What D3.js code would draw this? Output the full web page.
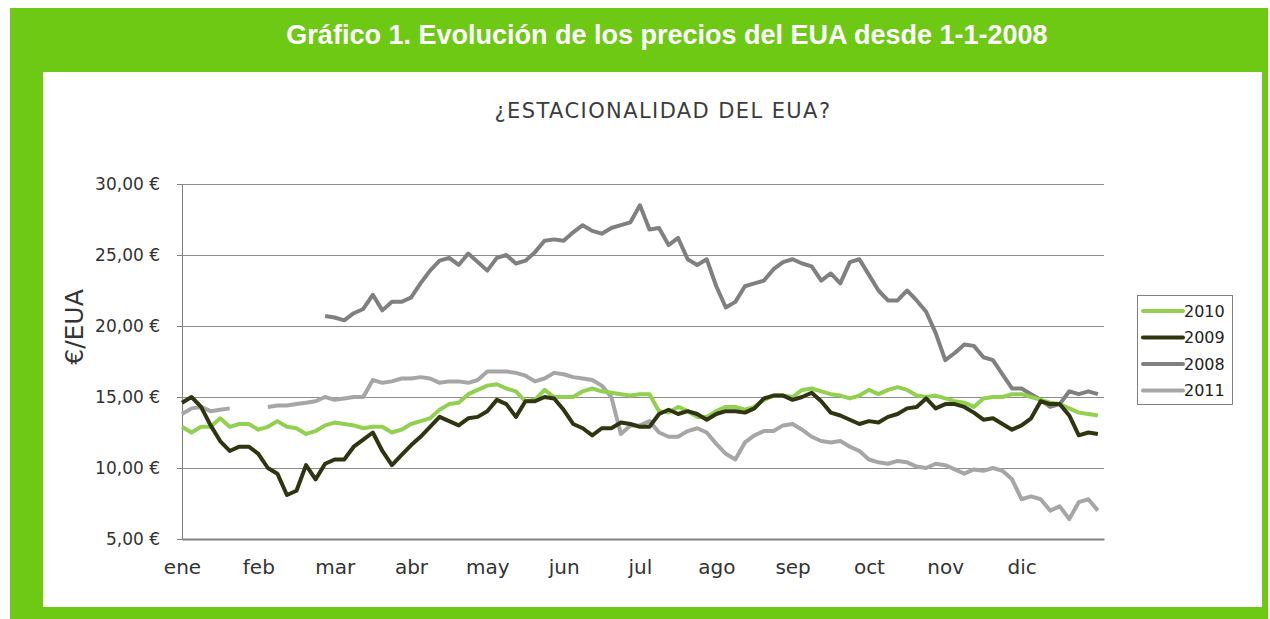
<!DOCTYPE html>
<html>
<head>
<meta charset="utf-8">
<script src="https://cdn.jsdelivr.net/npm/d3@7"></script>
<style>
  body { margin: 0; background: #fff; }
  #chart { width: 1270px; height: 619px; }
</style>
</head>
<body>
<div id="chart"></div>
<script>
var mainTitle = 'Gráfico 1. Evolución de los precios del EUA desde 1-1-2008';
var chartTitle = '¿ESTACIONALIDAD DEL EUA?';
var yLabel = '€/EUA';
var months = ['ene', 'feb', 'mar', 'abr', 'may', 'jun', 'jul', 'ago', 'sep', 'oct', 'nov', 'dic'];
var yTicks = [5, 10, 15, 20, 25, 30];
var step = 1 / 8; // one reading every eighth of a month

var s2010 = [12.9, 12.5, 12.9, 12.9, 13.5, 12.9, 13.1, 13.1, 12.7, 12.9, 13.3, 12.9, 12.8, 12.4, 12.6, 13.0, 13.2,
             13.1, 13.0, 12.8, 12.9, 12.9, 12.5, 12.7, 13.1, 13.3, 13.5, 14.1, 14.5, 14.6, 15.2, 15.5, 15.8,
             15.9, 15.6, 15.4, 14.7, 14.8, 15.5, 15.0, 15.0, 15.0, 15.4, 15.6, 15.4, 15.3, 15.2, 15.1, 15.2, 15.2,
             14.0, 13.9, 14.3, 14.0, 13.6, 13.6, 14.0, 14.3, 14.3, 14.1, 14.3, 14.8, 15.1, 15.1, 15.0, 15.5,
             15.6, 15.4, 15.2, 15.1, 14.9, 15.1, 15.5, 15.2, 15.5, 15.7, 15.5, 15.1, 15.0, 15.1, 14.9, 14.7,
             14.6, 14.3, 14.9, 15.0, 15.0, 15.2, 15.2, 15.0, 14.8, 14.6, 14.5, 14.2, 13.9, 13.8, 13.7];

var s2009 = [14.6, 15.0, 14.3, 13.0, 11.9, 11.2, 11.5, 11.5, 11.0, 10.0, 9.6, 8.1, 8.4, 10.2, 9.2, 10.3, 10.6,
             10.6, 11.5, 12.0, 12.5, 11.2, 10.2, 10.9, 11.6, 12.2, 12.9, 13.6, 13.3, 13.0, 13.5, 13.6, 14.0,
             14.8, 14.5, 13.6, 14.7, 14.7, 15.0, 14.9, 14.1, 13.1, 12.8, 12.3, 12.8, 12.8, 13.2, 13.1, 12.9, 12.9,
             13.8, 14.1, 13.8, 14.0, 13.8, 13.4, 13.8, 14.0, 14.0, 13.9, 14.2, 14.9, 15.1, 15.1, 14.8, 15.0,
             15.3, 14.7, 13.9, 13.7, 13.4, 13.1, 13.3, 13.2, 13.6, 13.8, 14.2, 14.3, 14.9, 14.2, 14.5, 14.5,
             14.3, 13.9, 13.4, 13.5, 13.1, 12.7, 13.0, 13.5, 14.7, 14.5, 14.5, 13.7, 12.3, 12.5, 12.4];

var s2008 = [null, null, null, null, null, null, null, null, null, null, null, null, null, null, null, 20.7, 20.6,
             20.4, 20.9, 21.2, 22.2, 21.1, 21.7, 21.7, 22.0, 23.0, 23.9, 24.6, 24.8, 24.3, 25.1, 24.5, 23.9,
             24.8, 25.0, 24.4, 24.6, 25.2, 26.0, 26.1, 26.0, 26.6, 27.1, 26.7, 26.5, 26.9, 27.1, 27.3, 28.5, 26.8,
             26.9, 25.7, 26.2, 24.7, 24.3, 24.7, 22.8, 21.3, 21.7, 22.8, 23.0, 23.2, 24.0, 24.5, 24.7, 24.4,
             24.2, 23.2, 23.7, 23.0, 24.5, 24.7, 23.6, 22.5, 21.8, 21.8, 22.5, 21.8, 21.0, 19.5, 17.6, 18.1,
             18.7, 18.6, 17.8, 17.6, 16.6, 15.6, 15.6, 15.2, 14.8, 14.3, 14.5, 15.4, 15.2, 15.4, 15.2];

var s2011 = [13.8, 14.2, 14.3, 14.0, 14.1, 14.2, null, null, null, 14.3, 14.4, 14.4, 14.5, 14.6, 14.7, 15.0, 14.8,
             14.9, 15.0, 15.0, 16.2, 16.0, 16.1, 16.3, 16.3, 16.4, 16.3, 16.0, 16.1, 16.1, 16.0, 16.2, 16.8,
             16.8, 16.8, 16.7, 16.5, 16.1, 16.3, 16.7, 16.6, 16.4, 16.3, 16.2, 15.8, 15.0, 12.4, 13.0, 13.0, 13.3,
             12.5, 12.2, 12.2, 12.6, 12.8, 12.5, 11.7, 11.0, 10.6, 11.8, 12.3, 12.6, 12.6, 13.0, 13.1, 12.7,
             12.2, 11.9, 11.8, 11.9, 11.5, 11.2, 10.6, 10.4, 10.3, 10.5, 10.4, 10.1, 10.0, 10.3, 10.2, 9.9,
             9.6, 9.9, 9.8, 10.0, 9.8, 9.2, 7.8, 8.0, 7.8, 7.0, 7.3, 6.4, 7.6, 7.8, 7.0];

var legendNames = ['2010', '2009', '2008', '2011'];
var legendValues = [s2010, s2009, s2008, s2011];
var legendColors = ['#92d050', '#2e3510', '#808080', '#a6a6a6'];
var drawOrder = [3, 2, 0, 1];

function drawChart() {
  var W = 1270, H = 619;
  var svg = d3.select('#chart').append('svg')
      .attr('width', W)
      .attr('height', H)
      .style('font-family', '"DejaVu Sans", sans-serif');

  // green frame + white panel
  svg.append('rect').attr('x', 10).attr('y', 8).attr('width', 1258).attr('height', 611).attr('fill', '#6dc914');
  svg.append('rect').attr('x', 43).attr('y', 72).attr('width', 1219).attr('height', 535).attr('fill', '#fff');

  svg.append('text')
      .attr('x', 667).attr('y', 44)
      .attr('text-anchor', 'middle')
      .attr('fill', '#fff')
      .style('font-family', '"Liberation Sans", Arial, sans-serif')
      .style('font-weight', 'bold')
      .style('font-size', '27px')
      .text(mainTitle);

  svg.append('text')
      .attr('x', 663).attr('y', 118)
      .attr('text-anchor', 'middle')
      .attr('fill', '#3c3c3c')
      .style('font-size', '21px')
      .style('letter-spacing', '1.4px')
      .text(chartTitle);

  var margin = {left: 182, top: 184, right: 1104, bottom: 539};
  var x = d3.scaleLinear().domain([0, 12.08]).range([margin.left, margin.right]);
  var y = d3.scaleLinear().domain([5, 30]).range([margin.bottom, margin.top]);

  // gridlines
  var grid = svg.append('g')
      .attr('transform', 'translate(' + margin.left + ',0)')
      .call(d3.axisLeft(y).tickValues(yTicks).tickSize(-(margin.right - margin.left)).tickFormat(''));
  grid.select('.domain').remove();
  grid.selectAll('line').attr('stroke', '#8c8c8c').attr('shape-rendering', 'crispEdges');

  var locale = d3.formatLocale({decimal: ',', thousands: '.', grouping: [3], currency: ['', ' €']});
  var fmt = locale.format('$,.2f');

  var yAxis = svg.append('g')
      .attr('transform', 'translate(' + margin.left + ',0)')
      .call(d3.axisLeft(y).tickValues(yTicks).tickSize(5).tickPadding(17).tickFormat(fmt));
  yAxis.select('.domain').attr('stroke', '#808080').attr('shape-rendering', 'crispEdges');
  yAxis.selectAll('line').attr('stroke', '#808080').attr('shape-rendering', 'crispEdges');
  yAxis.selectAll('text').attr('fill', '#333').style('font-size', '17px').style('font-family', '"DejaVu Sans", sans-serif');

  var xAxis = svg.append('g')
      .attr('transform', 'translate(0,' + margin.bottom + ')')
      .call(d3.axisBottom(x).tickValues(d3.range(months.length)).tickSize(0).tickPadding(21)
        .tickFormat(function(d) { return months[d]; }));
  xAxis.select('.domain').attr('stroke', '#808080').attr('stroke-width', 2);
  xAxis.selectAll('text').attr('fill', '#333').style('font-size', '20px').style('font-family', '"DejaVu Sans", sans-serif');

  svg.append('text')
      .attr('transform', 'translate(83,327) rotate(-90)')
      .attr('text-anchor', 'middle')
      .attr('fill', '#333')
      .style('font-size', '25px')
      .text(yLabel);

  var line = d3.line()
      .defined(function(d) { return d != null; })
      .x(function(d, i) { return x(i * step); })
      .y(function(d) { return y(d); });

  drawOrder.forEach(function(s) {
    svg.append('path')
        .datum(legendValues[s])
        .attr('d', line)
        .attr('fill', 'none')
        .attr('stroke', legendColors[s])
        .attr('stroke-width', 4)
        .attr('stroke-linejoin', 'round');
  });

  // legend
  var lg = svg.append('g');
  lg.append('rect').attr('x', 1137.5).attr('y', 295.5).attr('width', 95).attr('height', 109)
      .attr('fill', '#fff').attr('stroke', '#808080');
  legendNames.forEach(function(name, i) {
    var ly = 311 + i * 26.5;
    lg.append('line').attr('x1', 1143).attr('x2', 1183).attr('y1', ly).attr('y2', ly)
        .attr('stroke', legendColors[i]).attr('stroke-width', 4).attr('stroke-linecap', 'round');
    lg.append('text').attr('x', 1184).attr('y', ly).attr('dy', '0.36em')
        .attr('fill', '#222').style('font-size', '16px').text(name);
  });
}

drawChart();
</script>
</body>
</html>
